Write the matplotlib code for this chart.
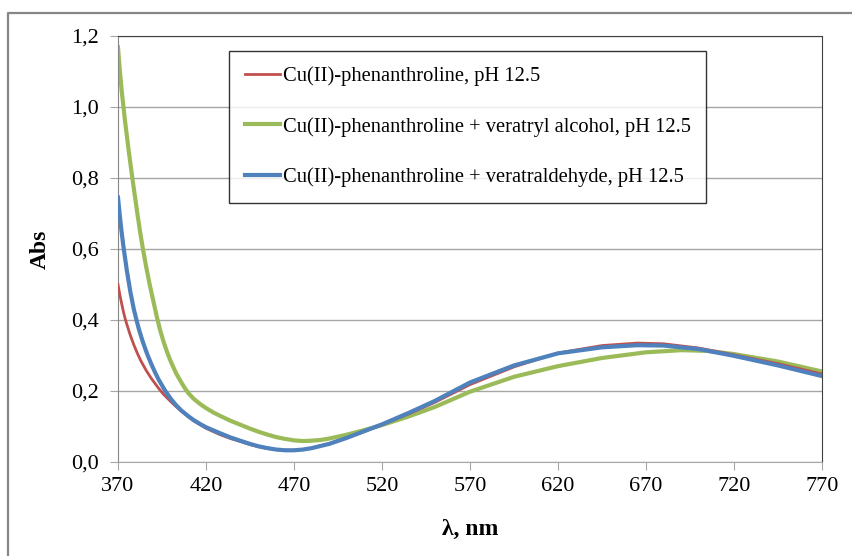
import matplotlib
matplotlib.use("Agg")
import matplotlib.pyplot as plt
from matplotlib.lines import Line2D

# wavelength, nm and absorbance
wl_red = [370, 371, 372, 373, 374, 375, 377, 379, 381, 383, 386, 389, 393, 396, 400, 403, 406,
          410, 413, 417, 420, 428, 434, 440, 445, 450, 455, 460, 465, 470, 475, 480, 490, 500,
          510, 520, 535, 550, 570, 595, 620, 645, 665, 680, 700, 720, 745, 770]
abs_red = [0.50, 0.472, 0.448, 0.425, 0.405, 0.388, 0.357, 0.33, 0.306, 0.285, 0.258, 0.235,
           0.208, 0.19, 0.17, 0.156, 0.143, 0.127, 0.116, 0.104, 0.095, 0.077, 0.066, 0.057,
           0.049, 0.043, 0.038, 0.035, 0.033, 0.033, 0.035, 0.039, 0.052, 0.068, 0.086, 0.105,
           0.135, 0.168, 0.218, 0.268, 0.307, 0.328, 0.335, 0.333, 0.321, 0.302, 0.277, 0.248]

wl_green = [370, 371, 372, 373, 374, 375, 376, 377.6, 379, 380, 381, 382.5, 384, 386, 388, 390,
            392, 394, 396, 398, 400, 403, 406, 408, 410, 413, 417, 420, 424, 428, 434, 440, 445,
            450, 455, 460, 465, 470, 475, 480, 485, 490, 500, 510, 520, 535, 550, 570, 595, 620,
            645, 670, 690, 705, 720, 745, 770]
abs_green = [1.168, 1.105, 1.05, 1.005, 0.96, 0.92, 0.88, 0.82, 0.77, 0.735, 0.70, 0.65, 0.605,
             0.55, 0.50, 0.455, 0.41, 0.37, 0.337, 0.308, 0.283, 0.25, 0.224, 0.208, 0.194,
             0.178, 0.162, 0.152, 0.140, 0.130, 0.116, 0.104, 0.094, 0.085, 0.077, 0.070, 0.065,
             0.061, 0.059, 0.060, 0.062, 0.066, 0.077, 0.090, 0.104, 0.128, 0.155, 0.198, 0.240,
             0.270, 0.293, 0.309, 0.315, 0.313, 0.304, 0.283, 0.255]

wl_blue = [370, 371, 372, 373, 374, 375, 376, 377, 378, 379, 380.5, 382, 384, 386.5, 389, 391,
           393, 396.5, 400, 403, 406, 410, 413, 417, 420, 428, 434, 440, 445, 450, 455, 460,
           465, 470, 475, 480, 490, 500, 510, 520, 535, 550, 570, 595, 620, 645, 665, 680, 700,
           720, 745, 770]
abs_blue = [0.745, 0.695, 0.65, 0.61, 0.575, 0.54, 0.51, 0.48, 0.455, 0.43, 0.40, 0.372, 0.34,
            0.305, 0.275, 0.253, 0.233, 0.203, 0.178, 0.16, 0.145, 0.129, 0.118, 0.106, 0.098,
            0.081, 0.069, 0.059, 0.051, 0.044, 0.039, 0.035, 0.033, 0.033, 0.035, 0.039, 0.051,
            0.068, 0.087, 0.106, 0.138, 0.172, 0.224, 0.272, 0.306, 0.323, 0.329, 0.328, 0.318,
            0.299, 0.272, 0.242]

labels = ['Cu(II)-phenanthroline, pH 12.5',
          'Cu(II)-phenanthroline + veratryl alcohol, pH 12.5',
          'Cu(II)-phenanthroline + veratraldehyde, pH 12.5']

x_ticks = [370, 420, 470, 520, 570, 620, 670, 720, 770]
y_ticks = [0.0, 0.2, 0.4, 0.6, 0.8, 1.0, 1.2]
y_tick_labels = ['0,0', '0,2', '0,4', '0,6', '0,8', '1,0', '1,2']

plt.rcParams['font.family'] = ['Liberation Serif', 'DejaVu Serif']

fig = plt.figure(figsize=(8.52, 5.56), dpi=100)
ax = fig.add_axes([118 / 852, 94 / 556, 704 / 852, 426 / 556])

# chart area frame, only its top and left edges fall inside the picture
fig.lines.append(Line2D([8 / 852, 8 / 852, 1.0], [0.0, 1 - 13 / 556, 1 - 13 / 556],
                        transform=fig.transFigure, color='#868686', linewidth=1.6))

ax.plot(wl_red, abs_red, color='#C0504D', linewidth=2, label=labels[0], zorder=3)
ax.plot(wl_green, abs_green, color='#9BBB59', linewidth=3, label=labels[1], zorder=2)
ax.plot(wl_blue, abs_blue, color='#4F81BD', linewidth=3, label=labels[2], zorder=3)

ax.set_xlim(370, 770)
ax.set_ylim(0, 1.2)
ax.set_xticks(x_ticks)
ax.set_yticks(y_ticks)
ax.set_yticklabels(y_tick_labels)
ax.grid(axis='y', color='#a6a6a6', linewidth=1)
ax.set_axisbelow(True)

ax.tick_params(axis='both', direction='out', length=6, color='#a6a6a6', labelsize=16)
ax.tick_params(axis='x', pad=5)
ax.tick_params(axis='y', pad=7.5)
ax.spines['left'].set_color('#868686')
ax.spines['bottom'].set_color('#a6a6a6')
ax.spines['top'].set_color('#404040')
ax.spines['right'].set_color('#404040')

ax.set_xlabel('λ, nm', fontsize=17, fontweight='bold', labelpad=16)
ax.set_ylabel('Abs', fontsize=17, fontweight='bold', labelpad=15)

leg = ax.legend(loc='upper left', bbox_to_anchor=(0.158, 0.965), borderaxespad=0,
                fontsize=14.8, frameon=True, fancybox=False, edgecolor='black',
                handlelength=1.7, handletextpad=0.15, labelspacing=1.5, borderpad=0.75)
leg.get_frame().set_linewidth(1)

plt.savefig('out.png', dpi=100)
